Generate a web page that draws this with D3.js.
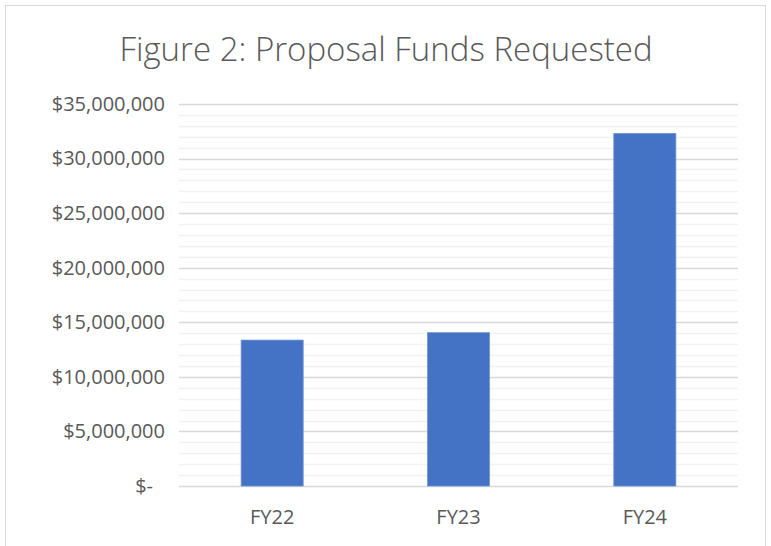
<!DOCTYPE html>
<html>
<head>
<meta charset="utf-8">
<script src="https://cdn.jsdelivr.net/npm/d3@7"></script>
<style>
  body { margin: 0; background: #fff; }
  text { font-family: "Open Sans", "Noto Sans", sans-serif; }
</style>
</head>
<body>
<svg id="chart" width="771" height="546"></svg>
<script>
// Data
const categories = ["FY22", "FY23", "FY24"];
const fundsRequested = [13370000, 14050000, 32300000];
const yTicks = [0, 5000000, 10000000, 15000000, 20000000, 25000000, 30000000, 35000000];
const chartTitle = "Figure 2: Proposal Funds Requested";

const svg = d3.select("#chart");
const width = 771, height = 546;
const margin = { top: 104, right: 33, bottom: 60, left: 179 };

// Outer border
svg.append("rect")
  .attr("x", 5.5).attr("y", 5.5)
  .attr("width", width - 11).attr("height", height)
  .attr("fill", "#fff")
  .attr("stroke", "#d9d9d9");

// Scales
const x = d3.scaleBand()
  .domain(categories)
  .range([margin.left, width - margin.right])
  .paddingInner(0.667)
  .paddingOuter(0.3335);

const y = d3.scaleLinear()
  .domain([0, 35000000])
  .range([height - margin.bottom, margin.top]);

// Minor gridlines
const minorTicks = d3.range(0, 35000001, 1000000).filter(v => v % 5000000 !== 0);
svg.append("g")
  .selectAll("line")
  .data(minorTicks)
  .join("line")
  .attr("x1", margin.left).attr("x2", width - margin.right)
  .attr("y1", d => Math.round(y(d)) + 0.5).attr("y2", d => Math.round(y(d)) + 0.5)
  .attr("stroke", "#f2f2f2")
  .attr("stroke-width", 1.5);

// Major gridlines
svg.append("g")
  .selectAll("line")
  .data(yTicks)
  .join("line")
  .attr("x1", margin.left).attr("x2", width - margin.right)
  .attr("y1", d => Math.round(y(d)) + 0.5).attr("y2", d => Math.round(y(d)) + 0.5)
  .attr("stroke", "#d9d9d9")
  .attr("stroke-width", 1.5);

// Bars
svg.append("g")
  .selectAll("rect")
  .data(categories.map((c, i) => ({ c, v: fundsRequested[i] })))
  .join("rect")
  .attr("x", d => x(d.c))
  .attr("y", d => y(d.v))
  .attr("width", x.bandwidth())
  .attr("height", d => y(0) - y(d.v))
  .attr("fill", "#4472c4")
  .attr("stroke", "#6f93d3")
  .attr("stroke-width", 0.8);

// Y axis labels
const fmt = d => d === 0 ? "$-" : "$" + d3.format(",")(d);
const yAxis = d3.axisLeft(y).tickValues(yTicks).tickFormat(fmt).tickSize(0).tickPadding(14);
const gy = svg.append("g")
  .attr("transform", `translate(${margin.left},0)`)
  .call(yAxis);
gy.select(".domain").remove();
gy.selectAll("text")
  .attr("fill", "#595959")
  .style("font-size", "20px")
  .style("font-family", "'Open Sans', sans-serif");
gy.selectAll(".tick").filter(d => d === 0).select("text")
  .attr("text-anchor", "end").attr("dx", "-12");

// X axis labels
const xAxis = d3.axisBottom(x).tickSize(0).tickPadding(24);
const gx = svg.append("g")
  .attr("transform", `translate(0,${y(0)})`)
  .call(xAxis);
gx.select(".domain").remove();
gx.selectAll("text")
  .attr("fill", "#595959")
  .style("font-size", "20px")
  .style("font-family", "'Open Sans', sans-serif");

// Title
svg.append("text")
  .attr("x", 386)
  .attr("y", 61)
  .attr("text-anchor", "middle")
  .attr("fill", "#595959")
  .style("font-size", "33px")
  .style("font-weight", 300)
  .text(chartTitle);
</script>
</body>
</html>
